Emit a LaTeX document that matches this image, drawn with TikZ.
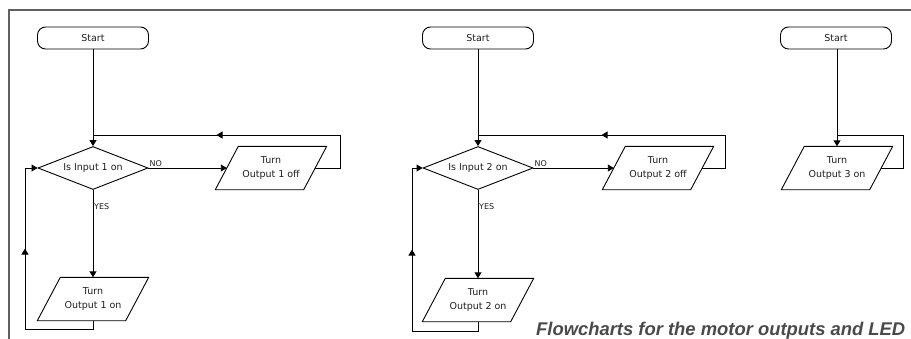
\documentclass[tikz,border=0pt]{standalone}
\usepackage{fontspec}
\setmainfont{DejaVu Sans}
\newfontfamily\capfont{Liberation Sans}
\usetikzlibrary{shapes.geometric,arrows.meta,decorations.markings}
\definecolor{framegray}{HTML}{606060}
\definecolor{capgray}{HTML}{4A4A4A}
\definecolor{txt}{HTML}{1E1E1E}
\tikzset{
  ln/.style={draw=black, line width=0.9pt},
  arr/.style={ln, -{Triangle[length=6pt,width=7pt]}},
  midarrow/.style={ln, postaction={decorate},
    decoration={markings, mark=at position 0.5 with {\arrow{Triangle[length=6pt,width=7pt]}}}},
  startbox/.style={ln, rounded corners=8pt, minimum width=111pt, minimum height=22pt,
    inner sep=0pt, text=txt, font=\fontsize{9.5}{11}\selectfont},
  decision/.style={diamond, ln, aspect=2.5, minimum width=110pt, minimum height=43pt,
    inner sep=0pt, text=txt, font=\fontsize{9.5}{11}\selectfont},
  iobox/.style={minimum width=88pt, minimum height=43pt, inner sep=0pt, align=center,
    text=txt, font=\fontsize{9.5}{14}\selectfont},
  lbl/.style={font=\fontsize{8}{9}\selectfont, inner sep=1pt, text=txt},
}
\newcommand\paraoutline[1]{\draw[ln] ([xshift=11.5pt]#1.north west) -- ([xshift=11.5pt]#1.north east)
  -- ([xshift=-11.5pt]#1.south east) -- ([xshift=-11.5pt]#1.south west) -- cycle;}
\begin{document}
\begin{tikzpicture}[x=1pt,y=-1pt]
\useasboundingbox (0,0) rectangle (911,338);
% frame
\draw[framegray, line width=1.8pt] (9,340) -- (9,10) -- (913,10);

% ---------- chart 1 ----------
\node[startbox] (s1) at (93,38) {Start};
\node[decision] (d1) at (93,168) {Is Input 1 on};
\node[iobox] (off1) at (271,168) {Turn\\Output 1 off};
\paraoutline{off1}
\node[iobox] (on1) at (93,299) {Turn\\Output 1 on};
\paraoutline{on1}
\coordinate (r1) at (340,135);
\coordinate (j1) at (93,135);
\coordinate (bl1) at (25,329);
\coordinate (tl1) at (25,168);
\draw[arr] (s1) -- (d1);
\draw[arr] (d1.east) -- (off1.west);
\draw[arr] (d1.south) -- (on1.north);
\draw[ln] (off1.east) -| (r1);
\draw[midarrow] (r1) -- (j1);
\draw[ln] (on1.south) |- (bl1);
\draw[midarrow] (bl1) -- (tl1);
\draw[arr] (tl1) -- (d1.west);
\node[lbl, anchor=south west] at (d1.east) {NO};
\node[lbl, anchor=west] at ([yshift=-17pt]d1.south) {YES};

% ---------- chart 2 ----------
\node[startbox] (s2) at (478,38) {Start};
\node[decision] (d2) at (478,168) {Is Input 2 on};
\node[iobox] (off2) at (658,168) {Turn\\Output 2 off};
\paraoutline{off2}
\node[iobox] (on2) at (478,300) {Turn\\Output 2 on};
\paraoutline{on2}
\coordinate (r2) at (725,135);
\coordinate (j2) at (478,135);
\coordinate (bl2) at (412,331);
\coordinate (tl2) at (412,168);
\draw[arr] (s2) -- (d2);
\draw[arr] (d2.east) -- (off2.west);
\draw[arr] (d2.south) -- (on2.north);
\draw[ln] (off2.east) -| (r2);
\draw[midarrow] (r2) -- (j2);
\draw[ln] (on2.south) |- (bl2);
\draw[midarrow] (bl2) -- (tl2);
\draw[arr] (tl2) -- (d2.west);
\node[lbl, anchor=south west] at (d2.east) {NO};
\node[lbl, anchor=west] at ([yshift=-17pt]d2.south) {YES};

% ---------- chart 3 ----------
\node[startbox] (s3) at (836,38) {Start};
\node[iobox] (on3) at (837,168) {Turn\\Output 3 on};
\paraoutline{on3}
\coordinate (r3) at (903,135);
\coordinate (j3) at (837,135);
\draw[arr] (s3.south -| on3.north) -- (on3.north);
\draw[ln] (on3.east) -| (r3) -- (j3);

% caption
\node[anchor=base west, inner sep=0pt, text=capgray,
  font=\capfont\bfseries\itshape\fontsize{18.4}{22}\selectfont] (cap) at (536,335)
  {Flowcharts for the motor outputs and LED};
\end{tikzpicture}
\end{document}
